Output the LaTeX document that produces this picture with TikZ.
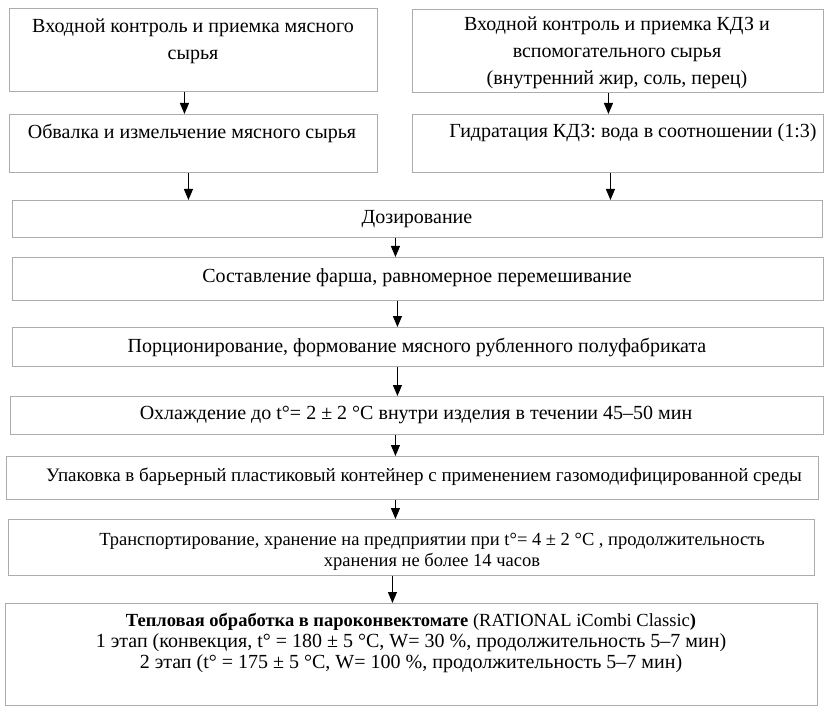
\documentclass[tikz,border=0pt]{standalone}
\usepackage{fontspec}
\setmainfont{Liberation Serif}
\usetikzlibrary{arrows.meta}
\tikzset{
  box/.style={draw=gray!65, line width=0.9pt, rectangle, inner sep=0pt, anchor=north west},
  txt/.style={align=center, inner sep=0pt, font=\fontsize{20}{27}\selectfont},
  txtb/.style={align=center, inner sep=0pt, font=\fontsize{20}{21}\selectfont},
  arr/.style={draw=black, line width=1pt, -{Triangle[width=9pt,length=11pt]}}
}
\begin{document}
\begin{tikzpicture}[x=1pt,y=-1pt]
\useasboundingbox (0,0) rectangle (832,719);
% boxes
\node[box, minimum width=368pt, minimum height=83pt] (b1) at (9,8) {};
\node[box, minimum width=411pt, minimum height=83pt] (b2) at (412,9) {};
\node[box, minimum width=368pt, minimum height=58pt] (b3) at (9,114) {};
\node[box, minimum width=411pt, minimum height=58pt] (b4) at (412,114) {};
\node[box, minimum width=810pt, minimum height=37pt] (b5) at (12,200) {};
\node[box, minimum width=811pt, minimum height=43pt] (b6) at (12,257) {};
\node[box, minimum width=811pt, minimum height=39pt] (b7) at (12,327) {};
\node[box, minimum width=813pt, minimum height=38pt] (b8) at (10,396) {};
\node[box, minimum width=812pt, minimum height=43pt] (b9) at (6,456) {};
\node[box, minimum width=806pt, minimum height=56pt] (b10) at (8,519) {};
\node[box, minimum width=812pt, minimum height=102pt] (b11) at (5,603) {};
% texts
\node[txt] (t1) at (193,41) {Входной контроль и приемка мясного\\сырья};
\node[txt] (t2) at (617,53) {Входной контроль и приемка КДЗ и\\вспомогательного сырья\\(внутренний жир, соль, перец)};
\node[txt] (t3) at (192,133) {Обвалка и измельчение мясного сырья};
\node[txt] (t4) at (633,133) {Гидратация КДЗ: вода в соотношении (1:3)};
\node[txt] (t5) at (417,219) {Дозирование};
\node[txt] (t6) at (417,278) {Составление фарша, равномерное перемешивание};
\node[txt] (t7) at (417,347) {Порционирование, формование мясного рубленного полуфабриката};
\node[txt] (t8) at (416,415) {Охлаждение до t°= 2 ± 2 °C внутри изделия в течении 45–50 мин};
\node[txt, font=\fontsize{19}{21}\selectfont] (t9) at (424,477) {Упаковка в барьерный пластиковый контейнер с применением газомодифицированной среды};
\node[txtb, font=\fontsize{18.5}{21}\selectfont] (t10) at (432,552) {Транспортирование, хранение на предприятии при t°= 4 ± 2 °C , продолжительность\\хранения не более 14 часов};
\node[txtb] (t11) at (411,643) {{\fontsize{18.5}{21}\selectfont\textbf{Тепловая обработка в пароконвектомате} (RATIONAL iCombi Classic\textbf{)}}\\1 этап (конвекция, t° = 180 ± 5 °C, W= 30 \%, продолжительность 5–7 мин)\\2 этап (t° = 175 ± 5 °C, W= 100 \%, продолжительность 5–7 мин)};
% arrows
\draw[arr] ([xshift=-9pt]b1.south) -- ([xshift=-9pt]b1.south |- b3.north);
\draw[arr] ([xshift=-9.5pt]b2.south) -- ([xshift=-9.5pt]b2.south |- b4.north);
\draw[arr] ([xshift=-5pt]b3.south) -- ([xshift=-5pt]b3.south |- b5.north);
\draw[arr] ([xshift=-7.5pt]b4.south) -- ([xshift=-7.5pt]b4.south |- b5.north);
\draw[arr] ([xshift=-22pt]b5.south) -- ([xshift=-22pt]b5.south |- b6.north);
\draw[arr] ([xshift=-20.5pt]b6.south) -- ([xshift=-20.5pt]b6.south |- b7.north);
\draw[arr] ([xshift=-20.5pt]b7.south) -- ([xshift=-20.5pt]b7.south |- b8.north);
\draw[arr] ([xshift=-21.5pt]b8.south) -- ([xshift=-21.5pt]b8.south |- b9.north);
\draw[arr] ([xshift=-17pt]b9.south) -- ([xshift=-17pt]b9.south |- b10.north);
\draw[arr] ([xshift=-19pt]b10.south) -- ([xshift=-19pt]b10.south |- b11.north);
\end{tikzpicture}
\end{document}
